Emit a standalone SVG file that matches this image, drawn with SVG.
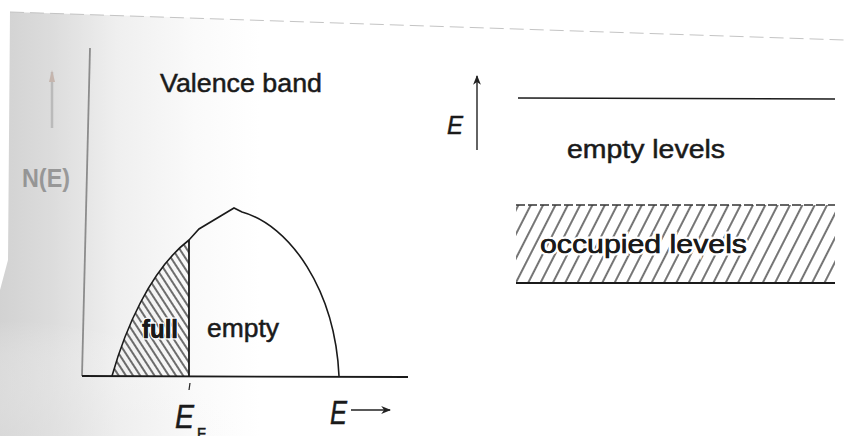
<svg xmlns="http://www.w3.org/2000/svg" width="844" height="436" viewBox="0 0 844 436">
<defs>
  <linearGradient id="shade" x1="0" y1="0" x2="1" y2="0">
    <stop offset="0" stop-color="#d2d2d2"/>
    <stop offset="0.2" stop-color="#dcdcdc"/>
    <stop offset="0.45" stop-color="#efefef"/>
    <stop offset="0.75" stop-color="#fafafa"/>
    <stop offset="1" stop-color="#ffffff"/>
  </linearGradient>
  <radialGradient id="shadeB" cx="0" cy="1" r="1">
    <stop offset="0" stop-color="#dddddd"/>
    <stop offset="0.7" stop-color="#f4f4f4" stop-opacity="0.4"/>
    <stop offset="1" stop-color="#ffffff" stop-opacity="0"/>
  </radialGradient>
  <pattern id="hatchL" width="6" height="10" patternUnits="userSpaceOnUse" patternTransform="rotate(-33)">
    <line x1="3" y1="0" x2="3" y2="10" stroke="#222" stroke-width="1.3"/>
  </pattern>
  <pattern id="hatchR" width="11" height="20" patternUnits="userSpaceOnUse" patternTransform="rotate(27)">
    <line x1="5" y1="0" x2="5" y2="20" stroke="#2a2a2a" stroke-width="1.3"/>
  </pattern>
  <marker id="arr" viewBox="0 0 10 10" refX="9" refY="5" markerWidth="7" markerHeight="7" orient="auto">
    <path d="M0,1 L10,5 L0,9 L3,5 Z" fill="#222"/>
  </marker>
  <clipPath id="fullClip">
    <path d="M112,376 C125,330 150,270 189,240 L189,376 Z"/>
  </clipPath>
  <style>
    .t { font-family: "Liberation Sans", Arial, sans-serif; fill: #1a1a1a; stroke: #1a1a1a; stroke-width: 0.5; }
    .it { font-style: italic; }
    .halo { stroke: #ffffff; paint-order: stroke; }
    .ln { stroke: #1a1a1a; fill: none; stroke-width: 1.6; }
  </style>
</defs>
<rect width="844" height="436" fill="#ffffff"/>
<!-- page shading -->
<polygon points="10,12 260,20 260,436 0,436 0,290 8,260" fill="url(#shade)"/>
<rect x="0" y="320" width="260" height="116" fill="url(#shadeB)" opacity="0.6"/>
<line x1="10" y1="12" x2="844" y2="40" stroke="#c4c4c4" stroke-width="1" stroke-dasharray="14 6"/>
<!-- faded show-through -->
<g id="faded" opacity="0.5">
  <line x1="52" y1="72" x2="52" y2="128" stroke="#9a9a9a" stroke-width="2.5"/>
  <path d="M49,82 L52,70 L55,82 Z" fill="#b08f80"/>
  <text x="22" y="187" font-family="Liberation Sans, Arial, sans-serif" font-size="26" font-weight="bold" fill="#555" textLength="48" lengthAdjust="spacingAndGlyphs">N(E)</text>
</g>
<!-- left: density of states -->
<g id="axes">
  <line x1="90" y1="48" x2="82" y2="376" stroke="#8c8c8c" stroke-width="1.8"/>
  <line x1="82" y1="376" x2="408" y2="377" stroke="#1a1a1a" stroke-width="1.8"/>
</g>
<g id="full-region">
  <rect x="100" y="230" width="100" height="150" fill="url(#hatchL)" clip-path="url(#fullClip)"/>
</g>
<g id="band-curve">
  <path class="ln" d="M112,376 C125,330 150,270 189,240 L199,229 L234,208 L242,212 C290,225 335,290 339,376"/>
  <line x1="189" y1="240" x2="189" y2="376" stroke="#1a1a1a" stroke-width="1.8"/>
</g>
<g id="labels-left">
  <text class="t" x="160" y="92" font-size="26" textLength="162" lengthAdjust="spacingAndGlyphs">Valence band</text>
  <text class="t halo" x="142" y="338" font-size="25" font-weight="bold" textLength="36" lengthAdjust="spacingAndGlyphs" style="stroke-width:3">full</text>
  <text class="t" x="142" y="338" font-size="25" font-weight="bold" textLength="36" lengthAdjust="spacingAndGlyphs">full</text>
  <text class="t" x="207" y="337" font-size="25" textLength="72" lengthAdjust="spacingAndGlyphs">empty</text>
  <line x1="190" y1="383" x2="189" y2="390" stroke="#222" stroke-width="1.2"/>
  <text class="t it" x="175" y="428" font-size="34" textLength="19" lengthAdjust="spacingAndGlyphs">E</text>
  <text class="t" x="197" y="438" font-size="14" textLength="9" lengthAdjust="spacingAndGlyphs">F</text>
  <text class="t it" x="330" y="424" font-size="34" textLength="17" lengthAdjust="spacingAndGlyphs">E</text>
  <line x1="351" y1="410" x2="390" y2="410" stroke="#222" stroke-width="1.4" marker-end="url(#arr)"/>
</g>
<!-- right: levels -->
<g id="energy-axis">
  <line x1="477" y1="150" x2="477" y2="76" stroke="#222" stroke-width="1.4" marker-end="url(#arr)"/>
  <text class="t it" x="447" y="134" font-size="26" textLength="16" lengthAdjust="spacingAndGlyphs">E</text>
</g>
<g id="empty-levels">
  <line x1="518" y1="98" x2="835" y2="99" stroke="#1a1a1a" stroke-width="1.6"/>
  <text class="t" x="567" y="158" font-size="25" textLength="158" lengthAdjust="spacingAndGlyphs">empty  levels</text>
</g>
<g id="occupied-levels">
  <rect x="516" y="205" width="319" height="78" fill="url(#hatchR)"/>
  <line x1="516" y1="205" x2="835" y2="205" stroke="#333" stroke-width="1.4" stroke-dasharray="9 3"/>
  <line x1="516" y1="283" x2="835" y2="283" stroke="#1a1a1a" stroke-width="1.8"/>
  <text class="t halo" x="540" y="253" font-size="26" textLength="207" lengthAdjust="spacingAndGlyphs" style="stroke-width:5">occupied  levels</text>
  <text class="t" x="540" y="253" font-size="26" textLength="207" lengthAdjust="spacingAndGlyphs">occupied  levels</text>
</g>
</svg>
